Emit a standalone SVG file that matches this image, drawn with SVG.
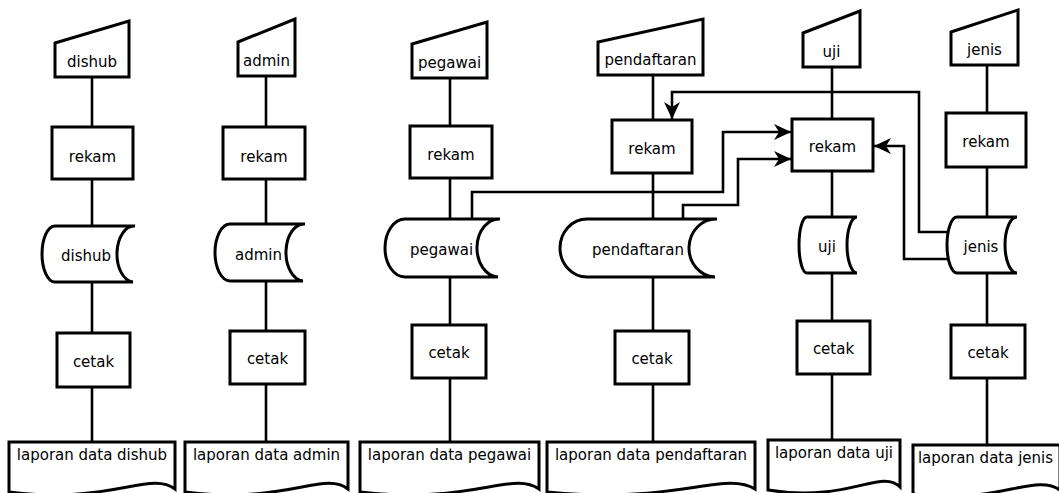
<svg xmlns="http://www.w3.org/2000/svg" width="1059" height="493" viewBox="0 0 1059 493">
<style>
.s{fill:#fff;stroke:#000;stroke-width:3;stroke-linejoin:miter}
.l{fill:none;stroke:#000;stroke-width:2.6}
text{font-family:"DejaVu Sans","Liberation Sans",sans-serif;font-size:15px;fill:#000;text-anchor:middle}
</style>
<defs>
<marker id="ah" markerUnits="userSpaceOnUse" markerWidth="20" markerHeight="20" viewBox="-1 -10 20 20" refX="17" refY="0" orient="auto">
<path d="M0,-8 L17,0 L0,8 L5,0 Z" fill="#000"/>
</marker>
</defs>
<rect width="1059" height="493" fill="#fff"/>
<g id="connectors">
<path class="l" d="M92,77V127M92,179V226M92,282V333M92,387V442"/>
<path class="l" d="M266,76V127M266,179V224M266,281V331M266,384V442"/>
<path class="l" d="M450,78V126M450,178V219M450,277V325M450,378V442"/>
<path class="l" d="M653,75V120M653,173V219M653,277V331M653,384V442"/>
<path class="l" d="M832,67V119M832,171V217M832,273V321M832,374V440"/>
<path class="l" d="M987,65V113M987,167V217M987,273V325M987,378V445"/>
<path class="l" d="M948,232H919V92H672V119" marker-end="url(#ah)"/>
<path class="l" d="M472,219V192H723V132H791" marker-end="url(#ah)"/>
<path class="l" d="M683,219V205H738V159H791" marker-end="url(#ah)"/>
<path class="l" d="M948,259H904V146H874" marker-end="url(#ah)"/>
</g>
<g id="dishub">
<path class="s" d="M55,43L129,21V77H55Z"/><text x="92" y="67">dishub</text>
<rect class="s" x="52" y="127" width="81" height="52"/><text x="92.5" y="162">rekam</text>
<path class="s" d="M55,226H135A17,28 0 0 0 133,282H55A13,28 0 0 1 55,226Z"/><text x="86" y="261">dishub</text>
<rect class="s" x="57" y="333" width="73" height="54"/><text x="93.5" y="367">cetak</text>
<path class="s" d="M9,442H175V489C150,470 110,505 9,492Z"/><text x="92" y="460">laporan data dishub</text>
</g>
<g id="admin">
<path class="s" d="M238,42L295,19V76H238Z"/><text x="266.5" y="66">admin</text>
<rect class="s" x="223" y="127" width="82" height="52"/><text x="264" y="162">rekam</text>
<path class="s" d="M230,224H305A18,28.5 0 0 0 303,281H230A15,28.5 0 0 1 230,224Z"/><text x="258.5" y="260">admin</text>
<rect class="s" x="230" y="331" width="75" height="53"/><text x="267.5" y="364">cetak</text>
<path class="s" d="M185,442H348V489C324,470 285,505 185,492Z"/><text x="266.5" y="460">laporan data admin</text>
</g>
<g id="pegawai">
<path class="s" d="M412,44L487,22V78H412Z"/><text x="449.5" y="68">pegawai</text>
<rect class="s" x="410" y="126" width="82" height="52"/><text x="451" y="160">rekam</text>
<path class="s" d="M405,219H500A22,29 0 0 0 498,277H405A20,29 0 0 1 405,219Z"/><text x="441.5" y="255">pegawai</text>
<rect class="s" x="412" y="325" width="74" height="53"/><text x="449" y="358">cetak</text>
<path class="s" d="M360,442H539V489C513,470 470,505 360,492Z"/><text x="449.5" y="460">laporan data pegawai</text>
</g>
<g id="pendaftaran">
<path class="s" d="M598,42L703,19V75H598Z"/><text x="650.5" y="65">pendaftaran</text>
<rect class="s" x="612" y="120" width="80" height="53"/><text x="652" y="154">rekam</text>
<path class="s" d="M587,219H717A27,29 0 0 0 715,277H587A27,29 0 0 1 587,219Z"/><text x="638" y="255">pendaftaran</text>
<rect class="s" x="615" y="331" width="74" height="53"/><text x="652" y="364">cetak</text>
<path class="s" d="M547,442H755V489C725,470 675,505 547,492Z"/><text x="651" y="460">laporan data pendaftaran</text>
</g>
<g id="uji">
<path class="s" d="M803,33L860,11V67H803Z"/><text x="831.5" y="57">uji</text>
<rect class="s" x="792" y="119" width="81" height="52"/><text x="832.5" y="152">rekam</text>
<path class="s" d="M807,217H857A10,28 0 0 0 857,273H807A8,28 0 0 1 807,217Z"/><text x="827" y="252">uji</text>
<rect class="s" x="797" y="321" width="73" height="53"/><text x="833.5" y="354">cetak</text>
<path class="s" d="M768,440H900V487C881,468 849,503 768,490Z"/><text x="834" y="458">laporan data uji</text>
</g>
<g id="jenis">
<path class="s" d="M951,32L1018,10V65H951Z"/><text x="984.5" y="55">jenis</text>
<rect class="s" x="946" y="113" width="80" height="54"/><text x="986" y="147">rekam</text>
<path class="s" d="M957,217H1017A12,28 0 0 0 1017,273H957A10,28 0 0 1 957,217Z"/><text x="981" y="252">jenis</text>
<rect class="s" x="951" y="325" width="74" height="53"/><text x="988" y="358">cetak</text>
<path class="s" d="M913,445H1060V490C1035,472 995,506 913,494Z"/><text x="985.5" y="463">laporan data jenis</text>
</g>
</svg>
